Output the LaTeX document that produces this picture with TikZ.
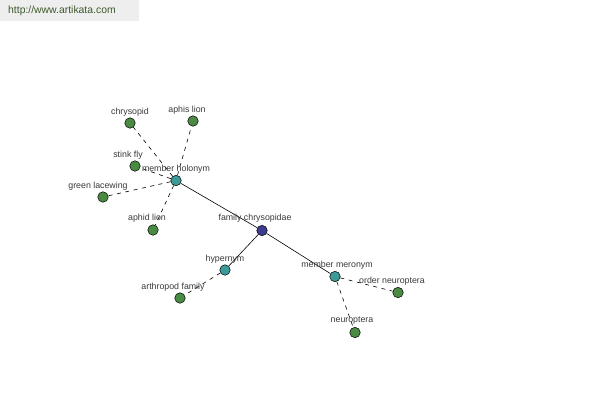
\documentclass[tikz,border=0pt]{standalone}
\usepackage{fontspec}
\setmainfont{Liberation Sans}
\definecolor{leafc}{HTML}{4A8A42}
\definecolor{hubc}{HTML}{3C9A98}
\definecolor{rootc}{HTML}{3C3C8E}
\definecolor{txtc}{HTML}{3A3A3A}
\definecolor{hdrbg}{HTML}{EEEEEE}
\definecolor{hdrtxt}{HTML}{3C5A2C}
\begin{document}
\begin{tikzpicture}[x=1pt,y=-1pt,
  dot/.style={circle,draw=black,line width=0.5pt,minimum size=10.5pt,inner sep=0pt},
  leaf/.style={dot,fill=leafc},
  hub/.style={dot,fill=hubc},
  root/.style={dot,fill=rootc},
  lbl/.style={font=\fontsize{8.8}{9}\selectfont,text=txtc,inner sep=0pt},
  solidedge/.style={draw=black,line width=0.6pt},
  dashedge/.style={draw=black,line width=0.6pt,dash pattern=on 4pt off 4.5pt}]
\useasboundingbox (0,0) rectangle (600,400);
\fill[white] (0,0) rectangle (600,400);
\node[fill=hdrbg,minimum width=139pt,minimum height=21pt,anchor=north west,inner sep=0pt] (hdr) at (0,0) {};
\node[anchor=west,font=\fontsize{10.4}{12}\selectfont,text=hdrtxt,inner sep=0pt] (hdrt) at (8,11) {http://www.artikata.com};
% nodes
\node[root] (fam) at (262,230.5) {};
\node[hub] (mh) at (176,180.5) {};
\node[hub] (hyp) at (225,270) {};
\node[hub] (mm) at (335,276.5) {};
\node[leaf] (chr) at (130,123) {};
\node[leaf] (aph) at (193,121) {};
\node[leaf] (stk) at (135,166) {};
\node[leaf] (grl) at (103,197) {};
\node[leaf] (apd) at (153,230) {};
\node[leaf] (art) at (180,298) {};
\node[leaf] (ord) at (398,292.5) {};
\node[leaf] (neu) at (355,332.5) {};
% edges
\path[solidedge] (mh) -- (fam);
\path[solidedge] (fam) -- (hyp);
\path[solidedge] (fam) -- (mm);
\path[dashedge] (mh) -- (chr);
\path[dashedge] (mh) -- (aph);
\path[dashedge] (mh) -- (stk);
\path[dashedge] (mh) -- (grl);
\path[dashedge] (mh) -- (apd);
\path[dashedge] (hyp) -- (art);
\path[dashedge] (mm) -- (ord);
\path[dashedge] (mm) -- (neu);
% labels
\node[lbl] (lchr) at (130,112) {chrysopid};
\node[lbl] (laph) at (187,110) {aphis lion};
\node[lbl] (lstk) at (128,155) {stink fly};
\node[lbl] (lmh) at (176,169) {member holonym};
\node[lbl] (lgrl) at (98,186) {green lacewing};
\node[lbl] (lapd) at (147,218.5) {aphid lion};
\node[lbl] (lfam) at (255,218.5) {family chrysopidae};
\node[lbl] (lhyp) at (225,259) {hypernym};
\node[lbl] (lart) at (173,287) {arthropod family};
\node[lbl] (lmm) at (337,265) {member meronym};
\node[lbl] (lord) at (392,281) {order neuroptera};
\node[lbl] (lneu) at (352,321) {neuroptera};
\end{tikzpicture}
\end{document}
